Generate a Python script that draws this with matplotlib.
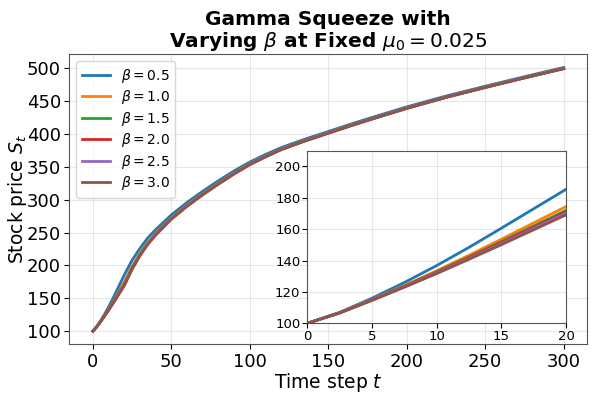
import matplotlib
matplotlib.use("Agg")
import matplotlib.pyplot as plt

t = [0, 2.5, 5, 7.5, 10, 12.5, 15, 17.5, 20, 25, 30, 35, 40, 50, 60, 70, 80, 90,
     100, 110, 120, 135, 150, 165, 180, 200, 225, 250, 275, 300]

betas = [0.5, 1.0, 1.5, 2.0, 2.5, 3.0]

s_b05 = [100, 107.0, 116.0, 126.0, 136.8, 148.4, 160.6, 173.0, 185.4, 208, 226, 242, 254.5,
         277, 296, 313, 329, 344, 357.5, 369.0, 379.5, 392.3, 404, 415.8, 427, 441.5,
         458, 473, 487.5, 501.5]
s_b10 = [100, 106.8, 115.2, 124.1, 133.5, 143.4, 153.6, 164.0, 174.4, 198.6, 218.4, 235.3, 248.9,
         272.5, 292.0, 309.3, 325.5, 340.9, 354.8, 366.5, 377.4, 390.4, 402.2, 414.1, 425.3, 439.9,
         456.6, 471.7, 486.2, 500.2]
s_b15 = [100, 106.7, 115.0, 123.7, 132.8, 142.3, 152.1, 162.0, 172.0, 196.6, 216.8, 233.8, 247.7,
         271.6, 291.1, 308.5, 324.8, 340.2, 354.2, 366.0, 376.9, 389.9, 401.8, 413.7, 425.0, 439.6,
         456.3, 471.4, 486.0, 500.0]
s_b20 = [100, 106.7, 114.9, 123.5, 132.5, 141.9, 151.5, 161.2, 171.0, 195.7, 216.0, 233.2, 247.2,
         271.1, 290.7, 308.2, 324.5, 339.9, 354.0, 365.8, 376.7, 389.8, 401.7, 413.5, 424.8, 439.4,
         456.2, 471.2, 485.8, 499.9]
s_b25 = [100, 106.6, 114.7, 123.2, 132.1, 141.3, 150.8, 160.4, 170.1, 194.9, 215.4, 232.7, 246.7,
         270.8, 290.4, 307.9, 324.2, 339.6, 353.8, 365.6, 376.5, 389.6, 401.5, 413.4, 424.7, 439.3,
         456.0, 471.1, 485.7, 499.8]
s_b30 = [100, 106.6, 114.6, 123.0, 131.7, 140.8, 150.1, 159.6, 169.1, 194.1, 214.8, 232.1, 246.2,
         270.4, 290.1, 307.6, 323.9, 339.4, 353.5, 365.4, 376.4, 389.4, 401.4, 413.2, 424.5, 439.2,
         455.9, 471.0, 485.6, 499.7]

series = [s_b05, s_b10, s_b15, s_b20, s_b25, s_b30]
colors = ['#1f77b4', '#ff7f0e', '#2ca02c', '#d62728', '#9467bd', '#8c564b']

main_xticks = [0, 50, 100, 150, 200, 250, 300]
main_yticks = [100, 150, 200, 250, 300, 350, 400, 450, 500]
inset_xticks = [0, 5, 10, 15, 20]
inset_yticks = [100, 120, 140, 160, 180, 200]

fig = plt.figure(figsize=(5.95, 3.97), dpi=100)
ax = fig.add_axes([0.1165, 0.1327, 0.8705, 0.7305])

for b, s, c in zip(betas, series, colors):
    ax.plot(t, s, color=c, lw=2.0, label=r'$\beta = %.1f$' % b)

ax.set_xlabel(r'Time step $t$', fontsize=13.5)
ax.set_ylabel(r'Stock price $S_t$', fontsize=13.5)
ax.xaxis.set_label_coords(0.5, -0.092)
ax.yaxis.set_label_coords(-0.078, 0.5)
ax.set_title('Gamma Squeeze with\n' + r'Varying $\beta$ at Fixed $\mu_0 = 0.025$',
             fontsize=14.5, fontweight='bold', pad=5, linespacing=1.1)
ax.tick_params(labelsize=13, pad=2.5)
ax.grid(True, color='#dddddd', lw=0.8, alpha=0.7)
ax.set_yticks(main_yticks)
ax.set_xticks(main_xticks)
for sp in ax.spines.values():
    sp.set_color('#555555')
ax.legend(loc='upper left', fontsize=10, labelspacing=0.25)

ins = fig.add_axes([0.5165, 0.1856, 0.4348, 0.4348])
for s, c in zip(series, colors):
    ins.plot(t, s, color=c, lw=2.0)
ins.set_xlim(0, 20)
ins.set_ylim(100, 210)
ins.set_xticks(inset_xticks)
ins.set_yticks(inset_yticks)
ins.tick_params(labelsize=9.5, pad=1.5)
ins.grid(True, color='#dddddd', lw=0.8, alpha=0.7)
for sp in ins.spines.values():
    sp.set_color('#555555')

fig.savefig('out.png', dpi=100)
